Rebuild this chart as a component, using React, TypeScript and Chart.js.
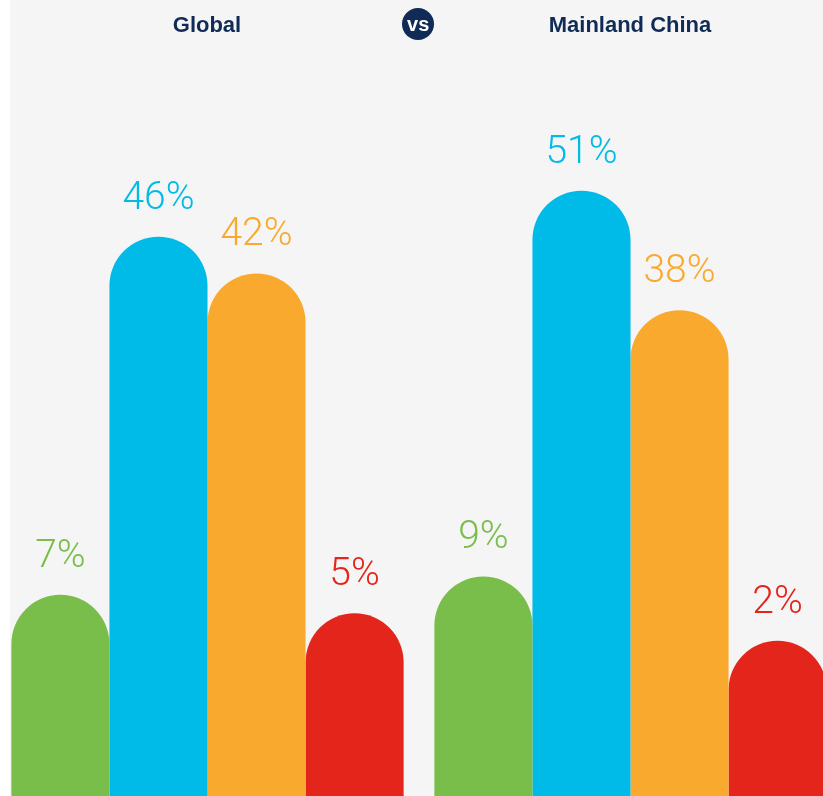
import React, { useEffect, useRef } from "react";
import { Chart, registerables } from "chart.js";

Chart.register(...registerables);

const groups = ["Global", "Mainland China"];
const seriesNames = ["Series 1", "Series 2", "Series 3", "Series 4"];
const greenValues = [7, 9];
const blueValues = [46, 51];
const orangeValues = [42, 38];
const redValues = [5, 2];
const seriesColors = ["#79bd4b", "#00bae8", "#f9aa2e", "#e3251c"];

const NAVY = "#102b55";

const labelPlugin = {
  id: "pctLabels",
  afterDatasetsDraw(chart: any) {
    const ctx = chart.ctx;
    ctx.save();
    ctx.font = "300 39px Roboto, sans-serif";
    ctx.textAlign = "center";
    ctx.textBaseline = "alphabetic";
    chart.data.datasets.forEach((ds: any, di: number) => {
      const meta = chart.getDatasetMeta(di);
      meta.data.forEach((el: any, i: number) => {
        ctx.fillStyle = ds.backgroundColor;
        ctx.fillText(ds.data[i] + "%", el.x, el.y - 28);
      });
    });
    ctx.restore();
  },
};

export default function App() {
  const ref = useRef<HTMLCanvasElement>(null);
  useEffect(() => {
    const all = [greenValues, blueValues, orangeValues, redValues];
    const chart = new Chart(ref.current!, {
      type: "bar",
      data: {
        labels: groups,
        datasets: all.map((vals, i) => ({
          label: seriesNames[i],
          data: vals,
          backgroundColor: seriesColors[i],
          base: -14.9,
          borderRadius: { topLeft: 100, topRight: 100, bottomLeft: 0, bottomRight: 0 },
          borderSkipped: "bottom",
          barPercentage: 1,
          categoryPercentage: 0.9273,
        })) as any,
      },
      options: {
        responsive: false,
        animation: false,
        layout: { padding: 0 },
        plugins: { legend: { display: false }, tooltip: { enabled: false }, title: { display: false } },
        scales: {
          x: { display: false },
          y: { display: false, min: -14.9, max: 71.77 },
        },
      },
      plugins: [labelPlugin],
    });
    return () => chart.destroy();
  }, []);

  const titleStyle: React.CSSProperties = {
    position: "absolute",
    top: 11,
    width: 300,
    textAlign: "center",
    fontFamily: "'Liberation Sans', Arial, sans-serif",
    fontWeight: 700,
    fontSize: 22,
    lineHeight: "28px",
    color: NAVY,
  };

  return (
    <div style={{ position: "absolute", left: 0, top: 0, width: 823, height: 796, overflow: "hidden", background: "#ffffff" }}>
      <div style={{ position: "absolute", left: 10, top: 0, width: 813, height: 796, background: "#f5f5f5" }} />
      <canvas ref={ref} width={846} height={796} style={{ position: "absolute", left: -4, top: 0, width: 846, height: 796 }} />
      <div style={{ ...titleStyle, left: 207 - 150 }}>{groups[0]}</div>
      <div style={{ ...titleStyle, left: 630 - 150 }}>{groups[1]}</div>
      <div
        style={{
          position: "absolute",
          left: 418.2 - 16,
          top: 24.2 - 16,
          width: 32,
          height: 32,
          borderRadius: "50%",
          background: NAVY,
          color: "#ffffff",
          fontFamily: "'Liberation Sans', Arial, sans-serif",
          fontWeight: 700,
          fontSize: 20,
          lineHeight: "32px",
          textAlign: "center",
        }}
      >
        vs
      </div>
    </div>
  );
}
